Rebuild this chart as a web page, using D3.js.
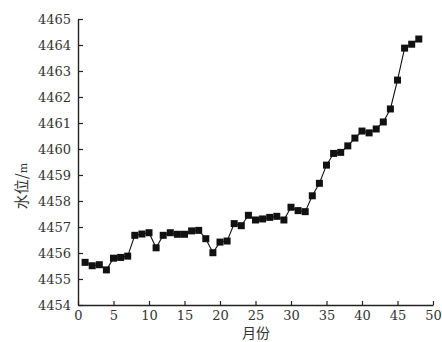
<!DOCTYPE html>
<html><head><meta charset="utf-8">
<script src="https://cdn.jsdelivr.net/npm/d3@7"></script>
<style>body{margin:0;background:#fff}svg{display:block}</style>
</head><body>
<svg id="c" width="442" height="342"></svg>
<script>
const months = d3.range(1, 49);
const waterLevel = [4455.64,4455.51,4455.55,4455.35,4455.80,4455.83,4455.88,4456.68,4456.73,4456.78,
4456.20,4456.68,4456.78,4456.72,4456.72,4456.85,4456.87,4456.55,4456.01,4456.42,
4456.46,4457.13,4457.05,4457.45,4457.27,4457.31,4457.37,4457.41,4457.27,4457.76,
4457.63,4457.59,4458.20,4458.68,4459.38,4459.83,4459.87,4460.12,4460.42,4460.69,
4460.62,4460.77,4461.04,4461.54,4462.65,4463.88,4464.03,4464.23];
const xTicks = [0,5,10,15,20,25,30,35,40,45,50];
const yTicks = d3.range(4454, 4466);
const xLabel = "月份";
const yLabel = "水位/";

const svg = d3.select("#c");
const x = d3.scaleLinear().domain([0,50]).range([78,433]);
const y = d3.scaleLinear().domain([4454,4465]).range([305,19]);
const serif = "DejaVu Serif";

const xa = svg.append("g").attr("transform","translate(0,305)")
  .call(d3.axisBottom(x).tickValues(xTicks).tickSizeInner(-4).tickSizeOuter(0).tickPadding(6));
const ya = svg.append("g").attr("transform","translate(78,0)")
  .call(d3.axisLeft(y).tickValues(yTicks).tickFormat(d3.format("d")).tickSizeInner(-5).tickSizeOuter(0).tickPadding(7));
[xa,ya].forEach(g=>{
  g.attr("font-family",serif).attr("font-size",13);
  g.selectAll("path").attr("stroke","#222").attr("stroke-width",1.4);
  g.selectAll("line").attr("stroke","#222").attr("stroke-width",1.2);
  g.selectAll("text").attr("fill","#333");
});

const pts = months.map((m,i)=>[m, waterLevel[i]]);
svg.append("path").datum(pts)
  .attr("fill","none").attr("stroke","#111").attr("stroke-width",1.1)
  .attr("d", d3.line().x(d=>x(d[0])).y(d=>y(d[1])));
const s = 7;
svg.append("g").selectAll("rect").data(pts).join("rect")
  .attr("x", d=>x(d[0])-s/2).attr("y", d=>y(d[1])-s/2)
  .attr("width", s).attr("height", s).attr("fill","#111");

svg.append("text").attr("x",256).attr("y",338).attr("text-anchor","middle")
  .attr("font-family","Noto Sans CJK SC, sans-serif").attr("font-size",14).attr("fill","#333").text(xLabel);
const yl = svg.append("text").attr("transform","translate(27,186) rotate(-90)").attr("text-anchor","middle")
  .attr("font-family","Noto Sans CJK SC, sans-serif").attr("font-size",15).attr("fill","#333");
yl.append("tspan").text(yLabel);
yl.append("tspan").attr("font-size",11).attr("font-family",serif).text("m");
</script>
</body></html>
